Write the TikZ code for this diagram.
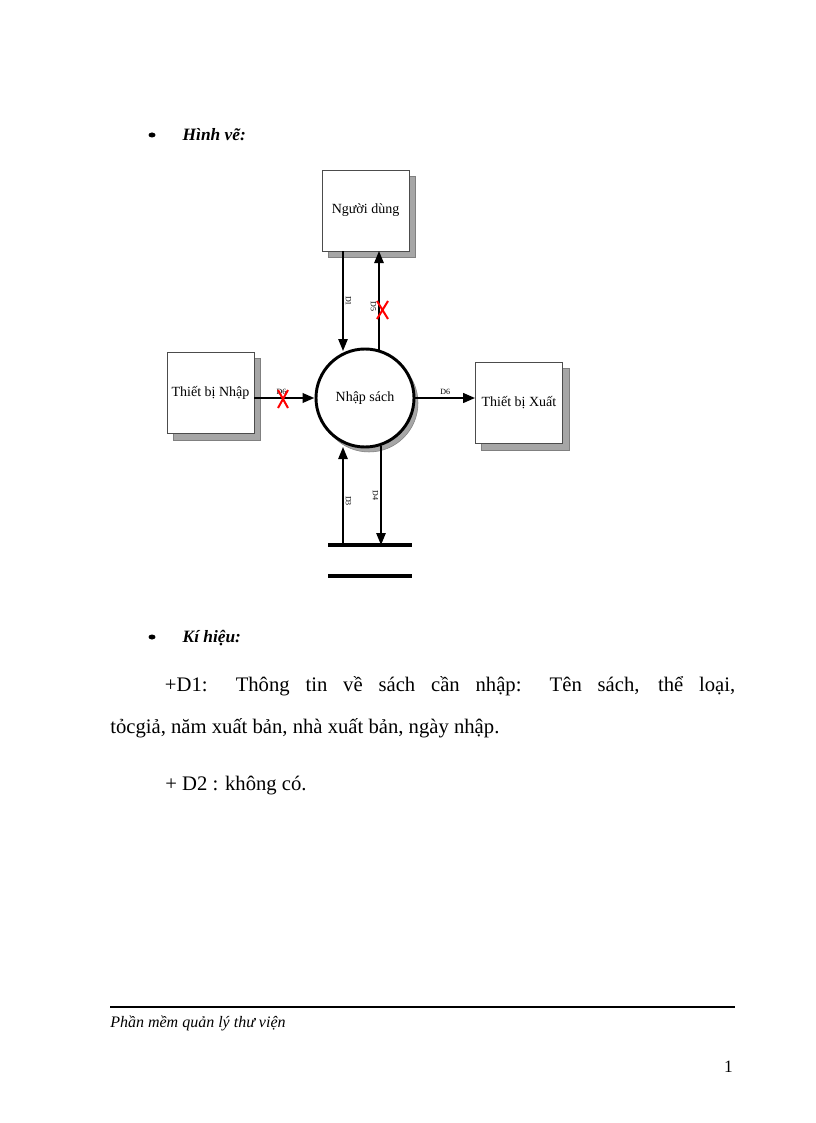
\documentclass[tikz,border=0pt]{standalone}
\usepackage{fontspec}
\setmainfont{Liberation Serif}
\usetikzlibrary{arrows.meta}
\begin{document}
\begin{tikzpicture}[x=0.75pt,y=-0.75pt,
  ent/.style={draw=black!70,fill=white,minimum width=65.25pt,minimum height=61pt,inner sep=0pt,font=\fontsize{10.5}{12}\selectfont},
  shad/.style={fill=black!35,draw=black!50},
  flow/.style={line width=1.3pt,-{Triangle[length=9pt,width=7pt]}},
  lbl/.style={font=\fontsize{6}{7}\selectfont,inner sep=1.5pt},
  xm/.style={red,line width=1.5pt}]
\useasboundingbox (0,0) rectangle (816,1123);
% bullets and headings
\fill (152,135) ellipse (3.5 and 2.5);
\node[anchor=west,font=\fontsize{13}{15}\selectfont\bfseries\itshape] (h1) at (178,135) {Hình vẽ:};
% shadows
\fill[shad] (328,176) rectangle (415,257);
\fill[shad] (173,358) rectangle (260,440);
\fill[shad] (481,368) rectangle (569,450);
\fill[shad] (369,403) circle (49);
% entities
\node[ent] (user) at (365.5,210.5) {Người dùng};
\node[ent] (in) at (210.5,393) {Thiết bị Nhập};
\node[ent] (out) at (519,403) {Thiết bị Xuất};
\node[circle,draw,line width=2.2pt,fill=white,minimum size=98*0.75pt,inner sep=0pt,font=\fontsize{10.5}{12}\selectfont] (p) at (365,398) {Nhập sách};
% store
\draw[line width=3pt] (328,545) -- (412,545);
\draw[line width=3pt] (328,576) -- (412,576);
% flows
\coordinate (a1) at (343,251); \coordinate (a1e) at (343,351);
\draw[flow] (a1) -- (a1e) node[lbl,midway,rotate=-90,anchor=south] {D1};
\coordinate (a5) at (379,352); \coordinate (a5e) at (379,251);
\draw[flow] (a5) -- (a5e) node[lbl,pos=0.45,rotate=-90,anchor=north] {D5};
\coordinate (a3) at (343,545); \coordinate (a3e) at (343,447);
\draw[flow] (a3) -- (a3e) node[lbl,pos=0.45,rotate=-90,anchor=south] {D3};
\coordinate (a4) at (381,446); \coordinate (a4e) at (381,545);
\draw[flow] (a4) -- (a4e) node[lbl,pos=0.5,rotate=-90,anchor=north] {D4};
\draw[flow,line width=2pt] (in.east |- p) -- (p.west) node[lbl,pos=0.45,above] {D6};
\draw[flow,line width=2pt] (p.east) -- (out.west |- p) node[lbl,pos=0.5,above] {D6};
% red crosses
\draw[xm] (278,390) -- (288,408) (288,390) -- (278,408);
\draw[xm] (377,301) -- (388,319) (388,301) -- (377,319);
% legend
\fill (152,637) ellipse (3.5 and 2.5);
\node[anchor=west,font=\fontsize{13}{15}\selectfont\bfseries\itshape] (h2) at (178,638) {Kí hiệu:};
\node[anchor=north west,inner sep=0pt,text width=625*0.75pt,align=justify,font=\fontsize{15.5}{32}\selectfont] (t1) at (110,676) {\hspace*{41pt}+D1: Thông tin về sách cần nhập: Tên sách, thể loại,\linebreak tỏcgiả, năm xuất bản, nhà xuất bản, ngày nhập.};
\node[anchor=west,inner sep=0pt,font=\fontsize{15.5}{17}\selectfont] (t2) at (165,786) {+ D2 : không có.};
% footer
\draw[line width=0.8pt] (110,1007) -- (735,1007);
\node[anchor=west,inner sep=0pt,font=\fontsize{12}{14}\selectfont\itshape] (f) at (110,1023) {Phần mềm quản lý thư viện};
\node[anchor=east,inner sep=0pt,font=\fontsize{13}{15}\selectfont] (pg) at (733,1067) {1};
\end{tikzpicture}
\end{document}
